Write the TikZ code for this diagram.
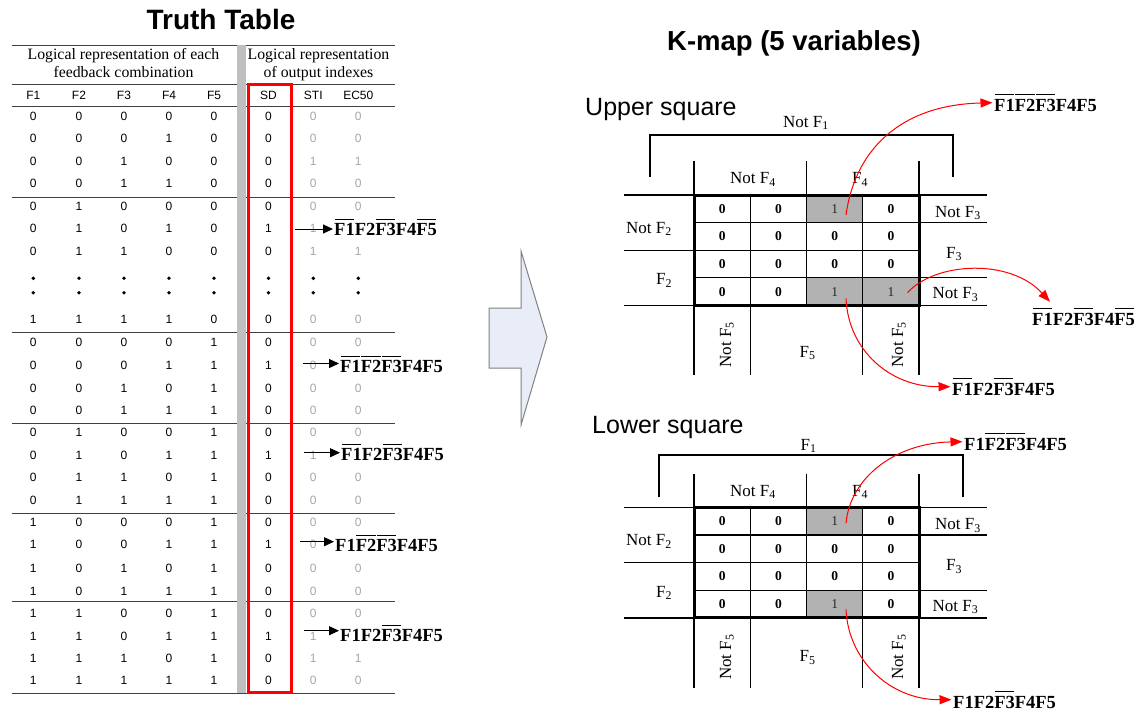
\documentclass[tikz,border=0pt]{standalone}
\usepackage{fontspec}
\setmainfont{Liberation Serif}
\newfontfamily\arial{Liberation Sans}
\usetikzlibrary{arrows.meta,calc}
\definecolor{blockfill}{RGB}{232,237,247}
\newsavebox\obbox
\newcommand\ob[1]{\sbox\obbox{#1}\rlap{\hspace{0.6pt}\rule[\dimexpr\ht\obbox+3.4pt\relax]{\dimexpr\wd\obbox-1.2pt\relax}{1.2pt}}\usebox\obbox}
\newcommand\nf[1]{Not F\textsubscript{#1}}
\newcommand\fs[1]{F\textsubscript{#1}}
\tikzset{
  num/.style={font=\arial\fontsize{12}{13}\selectfont, inner sep=0pt},
  gnum/.style={num, text=black!35},
  hdr/.style={font=\fontsize{15.8}{19}\selectfont, inner sep=0pt, anchor=base},
  trule/.style={line width=1pt, draw=black!75},
  lab/.style={font=\bfseries\fontsize{18.5}{20}\selectfont, inner sep=0pt, anchor=base west},
  tarr/.style={-{Triangle[length=10pt,width=9pt]}, line width=1pt, shorten >=1pt},
  rarr/.style={draw=red, line width=1pt, -{Triangle[length=12pt,width=9pt]}, shorten >=1.5pt},
  kl/.style={font=\fontsize{17}{18}\selectfont, inner sep=0pt, anchor=base},
  kz/.style={font=\bfseries\fontsize{13.5}{14}\selectfont, inner sep=0pt},
  ko/.style={font=\fontsize{13.5}{14}\selectfont, inner sep=0pt, text=black!85},
  kshade/.style={fill=black!30},
  kthin/.style={line width=1.3pt},
  kthick/.style={line width=3pt},
}
\newcommand\kmap[4]{%
\begin{scope}[yshift=-#2pt]
\foreach \r/\c/\v in {1/1/0,1/2/0,1/3/1,1/4/0,2/1/0,2/2/0,2/3/0,2/4/0,3/1/0,3/2/0,3/3/0,3/4/0,4/1/0,4/2/0,4/3/1,4/4/#3}{%
  \pgfmathsetmacro\cx{694+56.25*(\c-0.5)}%
  \pgfmathsetmacro\cy{27.6*(\r-0.5)}%
  \pgfmathsetmacro\ex{694+56.25*(\c-1)}%
  \pgfmathsetmacro\ey{27.6*(\r-1)}%
  \ifnum\v=1\relax
    \fill[kshade] (\ex,\ey) rectangle ++(56.25,27.6);
    \node[ko] (#1-\r\c) at (\cx,\cy) {1};
  \else
    \node[kz] (#1-\r\c) at (\cx,\cy) {0};
  \fi
}
\draw[kthin] (694,-34) -- (694,0) (806.5,-34) -- (806.5,0) (919,-34) -- (919,0);
\draw[kthin] (624,0) -- (987,0) (624,110.4) -- (987,110.4) (624,55.2) -- (694,55.2)
  (919,27.6) -- (987,27.6) (919,82.8) -- (987,82.8);
\draw[kthin] (750.25,0) -- (750.25,110.4) (806.5,0) -- (806.5,110.4) (862.75,0) -- (862.75,110.4)
  (694,27.6) -- (919,27.6) (694,55.2) -- (919,55.2) (694,82.8) -- (919,82.8);
\draw[kthin] (694,110.4) -- (694,180) (750.25,110.4) -- (750.25,180) (862.75,110.4) -- (862.75,180) (919,110.4) -- (919,180);
\draw[kthick] (694,0) rectangle (919,110.4);
\node[kl] (#1-nf4) at (753,-11.3) {\nf4};
\node[kl] (#1-f4) at (860,-11.3) {\fs4};
\node[kl] (#1-nf2) at (649,38) {\nf2};
\node[kl] (#1-f2) at (664,89.5) {\fs2};
\node[kl] (#1-nf3a) at (958,22) {\nf3};
\node[kl] (#1-f3) at (954,63) {\fs3};
\node[kl] (#1-nf3b) at (955.5,103.7) {\nf3};
\node[kl,rotate=90] (#1-nf5a) at (731,149.5) {\nf5};
\node[kl,rotate=90] (#1-nf5b) at (903,149.5) {\nf5};
\node[kl] (#1-f5) at (807.5,#4) {\fs5};
\end{scope}}
\begin{document}
\begin{tikzpicture}[x=1pt,y=-1pt]
\useasboundingbox (0,0) rectangle (1142,710);
% ---------- Truth table ----------
\node[font=\arial\bfseries\fontsize{28}{30}\selectfont, inner sep=0pt, anchor=base] (tt) at (221,29.3) {Truth Table};
\foreach \y in {45,84,106,197,332,423,513,601,693}{\draw[trule] (12,\y) -- (395,\y);}
\fill[black!25] (237.3,45) rectangle (246,693);
\node[hdr] (h1a) at (123.5,59.5) {Logical representation of each};
\node[hdr] (h1b) at (123.5,77.5) {feedback combination};
\node[hdr] (h2a) at (318.5,59.5) {Logical representation};
\node[hdr] (h2b) at (318.5,77.5) {of output indexes};
\foreach \x/\t in {33.3/F1,79/F2,124/F3,169/F4,214/F5,268.5/SD,313.3/STI,358.3/EC50}{\node[num] (hd-\t) at (\x,95) {\t};}
\foreach \y/\a/\b/\c/\d/\e/\s/\t/\u in {116/0/0/0/0/0/0/0/0,138.5/0/0/0/1/0/0/0/0,161.5/0/0/1/0/0/0/1/1,183.5/0/0/1/1/0/0/0/0,
  206.7/0/1/0/0/0/0/0/0,251.7/0/1/1/0/0/0/1/1,319.3/1/1/1/1/0/0/0/0,
  342.7/0/0/0/0/1/0/0/0,388.3/0/0/1/0/1/0/0/0,410/0/0/1/1/1/0/0/0,
  432.7/0/1/0/0/1/0/0/0,477.3/0/1/1/0/1/0/0/0,500/0/1/1/1/1/0/0/0,
  522.5/1/0/0/0/1/0/0/0,568.3/1/0/1/0/1/0/0/0,591/1/0/1/1/1/0/0/0,
  613.3/1/1/0/0/1/0/0/0,658.3/1/1/1/0/1/0/1/1,680.7/1/1/1/1/1/0/0/0}{
  \node[num] (r\y-1) at (33.3,\y) {\a};
  \node[num] (r\y-2) at (79,\y) {\b};
  \node[num] (r\y-3) at (124,\y) {\c};
  \node[num] (r\y-4) at (169,\y) {\d};
  \node[num] (r\y-5) at (214,\y) {\e};
  \node[num] (r\y-6) at (268.5,\y) {\s};
  \node[gnum] (r\y-7) at (313.3,\y) {\t};
  \node[gnum] (r\y-8) at (358.3,\y) {\u};
}
\foreach \y/\a/\b/\c/\d/\e/\s/\t in {228.3/0/1/0/1/0/1/1,365/0/0/0/1/1/1/0,455/0/1/0/1/1/1/1,544.5/1/0/0/1/1/1/0,636/1/1/0/1/1/1/1}{
  \node[num] (r\y-1) at (33.3,\y) {\a};
  \node[num] (r\y-2) at (79,\y) {\b};
  \node[num] (r\y-3) at (124,\y) {\c};
  \node[num] (r\y-4) at (169,\y) {\d};
  \node[num] (r\y-5) at (214,\y) {\e};
  \node[num] (r\y-6) at (268.5,\y) {\s};
  \node[gnum] (r\y-7) at (313.3,\y) {\t};
}
\foreach \x in {33.3,79,124,169,214,268.5,313.3,358.3}{\fill (\x,278.3) circle (1.9) (\x,292.7) circle (1.9);}
\draw[red, line width=3pt] (248.5,84.5) rectangle (291,692);
% labels + arrows in table
\node[lab] (t-l1) at (334,235.5) {\ob{F1}F2\ob{F3}F4\ob{F5}};
\coordinate (t-a1) at (295,229);
\draw[tarr] (t-a1) -- (t-a1 -| t-l1.west);
\node[lab] (t-l2) at (340,372.5) {\ob{F1}\ob{F2}\ob{F3}F4F5};
\coordinate (t-a2) at (302.5,363.5);
\draw[tarr] (t-a2) -- (t-a2 -| t-l2.west);
\node[lab] (t-l3) at (341,460.5) {\ob{F1}F2\ob{F3}F4F5};
\coordinate (t-a3) at (304,452.7);
\draw[tarr] (t-a3) -- (t-a3 -| t-l3.west);
\node[lab] (t-l4) at (335,551.5) {F1\ob{F2}\ob{F3}F4F5};
\coordinate (t-a4) at (300,541.7);
\draw[tarr] (t-a4) -- (t-a4 -| t-l4.west);
\node[lab] (t-l5) at (340,641.5) {F1F2\ob{F3}F4F5};
\coordinate (t-a5) at (304,630.7);
\draw[tarr] (t-a5) -- (t-a5 -| t-l5.west);
% ---------- block arrow ----------
\draw[draw=black!50, fill=blockfill, line width=1pt] (489,308) -- (521,308) -- (521,251) -- (547,337) -- (521,425) -- (521,368) -- (489,368) -- cycle;
% ---------- K-maps ----------
\node[font=\arial\bfseries\fontsize{27.5}{30}\selectfont, inner sep=0pt, anchor=base] (kt) at (794,50) {K-map (5 variables)};
\node[font=\arial\fontsize{25}{28}\selectfont, inner sep=0pt, anchor=base west] (us) at (585,115) {Upper square};
\node[font=\arial\fontsize{25}{28}\selectfont, inner sep=0pt, anchor=base west] (ls) at (592,433) {Lower square};
\kmap{u}{195}{1}{162}
\kmap{l}{507.5}{0}{154}
\draw[kthin] (650,177) -- (650,135) -- (953,135) -- (953,177);
\node[kl] (u-nf1) at (806,127) {\nf1};
\draw[kthin] (659,497) -- (659,455) -- (963,455) -- (963,497);
\node[kl] (l-f1) at (808.6,450) {\fs1};
\node[lab] (u-lt) at (994,111) {\ob{F1}\ob{F2}\ob{F3}F4F5};
\node[lab] (u-lr) at (1032,325) {\ob{F1}F2\ob{F3}F4\ob{F5}};
\node[lab] (u-lb) at (952,395) {\ob{F1}F2\ob{F3}F4F5};
\node[lab] (l-lt) at (964,450) {F1\ob{F2}\ob{F3}F4F5};
\node[lab] (l-lb) at (953,708) {F1F2\ob{F3}F4F5};
\coordinate (u-s1) at (846,215);
\draw[rarr] (u-s1) .. controls (855,150) and (900,105) .. (u-lt.west);
\coordinate (u-s2) at (907.5,292.7);
\coordinate (u-t2) at ($(u-lr.north west)+(19,-5)$);
\draw[rarr] (u-s2) .. controls (935,262) and (1010,258) .. (u-t2);
\coordinate (u-s3) at (846,298.3);
\draw[rarr] (u-s3) .. controls (848,350) and (890,387) .. (u-lb.west);
\coordinate (l-s1) at (846,523.3);
\draw[rarr] (l-s1) .. controls (850,478) and (895,443) .. (l-lt.west);
\coordinate (l-s2) at (846,609.3);
\draw[rarr] (l-s2) .. controls (848,660) and (890,700) .. (l-lb.west);
\end{tikzpicture}
\end{document}
